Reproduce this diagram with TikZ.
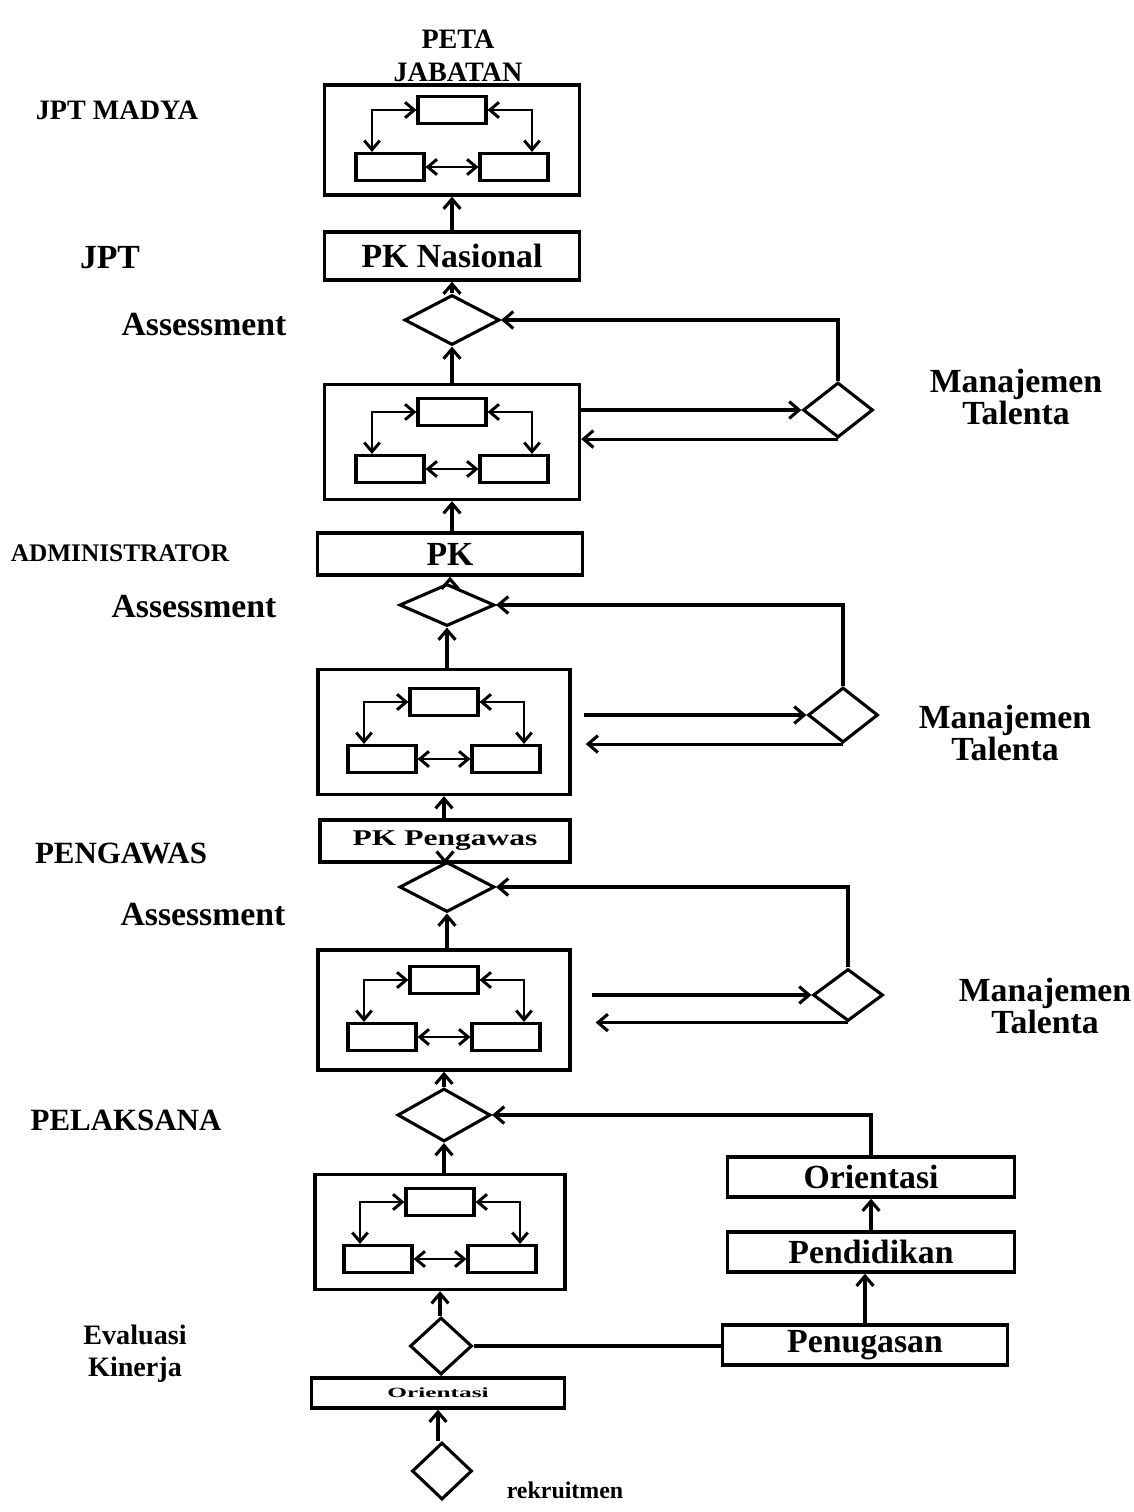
\documentclass[tikz,border=0pt]{standalone}
\usepackage{fontspec}
\setmainfont{Liberation Serif}
\usetikzlibrary{arrows.meta,shapes.geometric}

\newcommand{\px}{0.025cm}  % one pixel of the reference

\tikzset{
  bigbox/.style={draw, line width=2.4pt, inner sep=0pt},
  subbox/.style={draw, line width=2.2pt, inner sep=0pt,
    minimum width=68*\px, minimum height=27*\px},
  txtbox/.style={draw, line width=2.4pt, inner sep=0pt,
    font=\fontsize{24}{28}\selectfont\bfseries},
  dec/.style={diamond, draw, line width=2.2pt, inner sep=0pt},
  lbl/.style={font=\fontsize{24}{20}\selectfont\bfseries, align=center},
  caplbl/.style={font=\fontsize{20}{23}\selectfont\bfseries, align=center},
  arr/.style={line width=2.2pt, -{Straight Barb[length=7pt,width=12pt]}},
  inarr/.style={line width=2.1pt,
    {Straight Barb[length=6.5pt,width=11pt]}-{Straight Barb[length=6.5pt,width=11pt]}}
}

% kotak peta jabatan: nama, x, y, lebar, tinggi
\newcommand{\petabox}[5]{%
  \node[bigbox, minimum width=#4*\px, minimum height=#5*\px] (#1) at (#2,#3) {};
  \node[subbox] (#1t) at ([shift={(0,-30)}]#1.center) {};
  \node[subbox] (#1l) at ([shift={(-62,27)}]#1.center) {};
  \node[subbox] (#1r) at ([shift={(62,27)}]#1.center) {};
  \draw[inarr] (#1t.west) -| ([xshift=-18*\px]#1l.north);
  \draw[inarr] (#1t.east) -| ([xshift=18*\px]#1r.north);
  \draw[inarr] (#1l.east) -- (#1r.west);
}

\begin{document}
\begin{tikzpicture}[x=0.025cm, y=-0.025cm]
  \useasboundingbox (0,0) rectangle (1133,1512);

  % judul dan label kiri
  \node[caplbl] (judul) at (458,56) {PETA\\JABATAN};
  \node[caplbl] (madya) at (117,110) {JPT MADYA};
  \node[caplbl, font=\fontsize{24}{27}\selectfont\bfseries] (jpt) at (110,258) {JPT};
  \node[lbl] (as1) at (204,325) {Assessment};
  \node[caplbl, font=\fontsize{18}{21}\selectfont\bfseries] (admin) at (120,553) {ADMINISTRATOR};
  \node[lbl] (as2) at (194,607) {Assessment};
  \node[caplbl, font=\fontsize{22}{25}\selectfont\bfseries] (pengawas) at (121,853) {PENGAWAS};
  \node[lbl] (as3) at (203,915) {Assessment};
  \node[caplbl, font=\fontsize{22}{25}\selectfont\bfseries] (pelaksana) at (126,1120) {PELAKSANA};
  \node[lbl, font=\fontsize{20}{23}\selectfont\bfseries] (evaluasi) at (135,1354) {Evaluasi\\Kinerja};
  \node[lbl] (mt1) at (1016,397) {Manajemen\\Talenta};
  \node[lbl] (mt2) at (1005,733) {Manajemen\\Talenta};
  \node[lbl] (mt3) at (1045,1006) {Manajemen\\Talenta};
  \node[lbl, font=\fontsize{17}{20}\selectfont\bfseries] (rekrut) at (565,1490) {rekruitmen};

  % kolom utama
  \petabox{b1}{452}{140}{255}{110}
  \node[txtbox, minimum width=255*\px, minimum height=48*\px] (pkn) at (452,256) {PK Nasional};
  \node[dec, minimum width=95*\px, minimum height=50*\px] (d1) at (452,320) {};
  \petabox{b2}{452}{442}{255}{115}
  \node[txtbox, minimum width=265*\px, minimum height=42*\px] (pk) at (450,554) {PK};
  \node[dec, minimum width=95*\px, minimum height=42*\px] (d2) at (447,605) {};
  \petabox{b3}{444}{732}{252}{125}
  \node[txtbox, minimum width=250*\px, minimum height=42*\px,
    font=\fontsize{16}{18}\selectfont\bfseries] (pkp) at (445,841) {\scalebox{1.4}[1]{PK Pengawas}};
  \node[dec, minimum width=95*\px, minimum height=50*\px] (d3) at (447,887) {};
  \petabox{b4}{444}{1010}{252}{120}
  \node[dec, minimum width=93*\px, minimum height=53*\px] (d4) at (444,1115) {};
  \petabox{b5}{440}{1232}{250}{115}
  \node[dec, minimum width=62*\px, minimum height=57*\px] (d5) at (441,1346) {};
  \node[txtbox, minimum width=253*\px, minimum height=30*\px,
    font=\fontsize{10}{12}\selectfont\bfseries] (orik) at (438,1393) {\scalebox{1.8}[1]{Orientasi}};
  \node[dec, minimum width=60*\px, minimum height=57*\px] (d6) at (442,1471) {};

  % manajemen talenta
  \node[dec, minimum width=70*\px, minimum height=55*\px] (rd1) at (838,410) {};
  \node[dec, minimum width=70*\px, minimum height=55*\px] (rd2) at (843,715) {};
  \node[dec, minimum width=70*\px, minimum height=52*\px] (rd3) at (848,995) {};

  % jalur kanan bawah
  \node[txtbox, minimum width=287*\px, minimum height=40*\px] (ori) at (871,1177) {Orientasi};
  \node[txtbox, minimum width=287*\px, minimum height=40*\px] (pend) at (871,1252) {Pendidikan};
  \node[txtbox, minimum width=285*\px, minimum height=40*\px] (tugas) at (865,1345) {Penugasan};

  % panah kolom utama
  \draw[arr] (b1.south |- pkn.north) -- (b1.south);
  \draw[arr] (pkn.south |- d1.north) -- (pkn.south);
  \draw[arr] (d1.south |- b2.north) -- (d1.south);
  \draw[arr] (b2.south |- pk.north) -- (b2.south);
  \draw[arr] (pk.south |- d2.north) -- (pk.south);
  \draw[arr] (d2.south |- b3.north) -- (d2.south);
  \draw[arr] (b3.south |- pkp.north) -- (b3.south);
  \draw[arr] (pkp.south |- d3.north) -- (pkp.south);
  \draw[arr] (d3.south |- b4.north) -- (d3.south);
  \draw[arr] (b4.south |- d4.north) -- (b4.south);
  \draw[arr] (d4.south |- b5.north) -- (d4.south);
  \draw[arr] (b5.south |- d5.north) -- (b5.south);
  \draw[arr] (orik.south |- d6.north) -- (orik.south);

  % panah manajemen talenta
  \draw[arr] (rd1.west -| b2.east) -- (rd1.west);
  \draw[arr] (rd1.south) -- (rd1.south -| b2.east);
  \draw[arr] (rd1.north) |- (d1.east);
  \draw[arr] ([xshift=12*\px]rd2.west -| b3.east) -- (rd2.west);
  \draw[arr] (rd2.south) -- ([xshift=14*\px]rd2.south -| b3.east);
  \draw[arr] (rd2.north) |- (d2.east);
  \draw[arr] ([xshift=20*\px]rd3.west -| b4.east) -- (rd3.west);
  \draw[arr] (rd3.south) -- ([xshift=24*\px]rd3.south -| b4.east);
  \draw[arr] (rd3.north) |- (d3.east);

  % orientasi, pendidikan, penugasan
  \draw[arr] (ori.north) |- (d4.east);
  \draw[arr] (pend.north) -- (pend.north |- ori.south);
  \draw[arr] (tugas.north) -- (tugas.north |- pend.south);
  \draw[line width=2.2pt] (d5.east) -- (d5.east -| tugas.west);
\end{tikzpicture}
\end{document}
